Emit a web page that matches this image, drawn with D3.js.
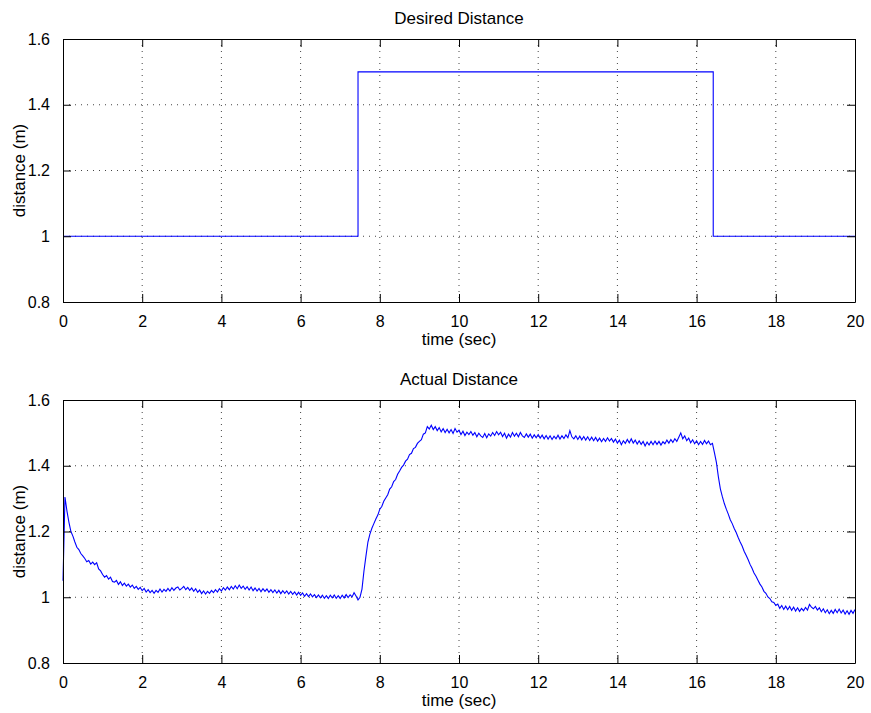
<!DOCTYPE html>
<html>
<head>
<meta charset="utf-8">
<script src="https://cdn.jsdelivr.net/npm/d3@7"></script>
<style>
  body { margin: 0; background: #fff; }
  svg { display: block; font-family: "Liberation Sans", Arial, sans-serif; }
</style>
</head>
<body>
<svg width="871" height="713"></svg>
<script>
// chart text and ticks
const titles = ["Desired Distance", "Actual Distance"];
const xLabel = "time (sec)";
const yLabel = "distance (m)";
const xTicks = [0, 2, 4, 6, 8, 10, 12, 14, 16, 18, 20];
const yTicks = [0.8, 1, 1.2, 1.4, 1.6];

// desired distance (step reference)
const desiredTimes = [0, 7.45, 16.42, 20];
const desiredValues = [1, 1.5, 1, 1];

// actual distance, sampled every 0.05 s from t = 0 to 20
const sampleStep = 0.05;
const actualValues = [
  1.050,1.305,1.262,1.228,1.200,1.186,1.168,1.152,1.145,1.133,1.126,1.118,1.108,1.112,1.101,1.107,1.099,1.105,1.086,1.080,
  1.069,1.061,1.066,1.055,1.061,1.048,1.046,1.051,1.039,1.047,1.036,1.043,1.034,1.040,1.031,1.037,1.027,1.033,1.024,1.030,
  1.020,1.027,1.016,1.023,1.014,1.021,1.012,1.021,1.015,1.025,1.016,1.024,1.018,1.027,1.019,1.029,1.021,1.028,1.031,1.022,
  1.027,1.033,1.023,1.030,1.021,1.028,1.018,1.026,1.015,1.022,1.011,1.019,1.010,1.018,1.012,1.021,1.014,1.023,1.016,1.026,
  1.019,1.029,1.022,1.031,1.023,1.033,1.025,1.035,1.026,1.037,1.027,1.034,1.024,1.032,1.022,1.031,1.020,1.028,1.019,1.027,
  1.017,1.026,1.018,1.025,1.015,1.023,1.014,1.022,1.013,1.021,1.011,1.020,1.012,1.019,1.010,1.018,1.009,1.016,1.007,1.015,
  1.006,1.013,1.003,1.011,1.002,1.010,1.001,1.008,0.999,1.007,0.998,1.006,0.997,1.005,0.996,1.006,0.998,1.007,0.997,1.005,
  0.996,1.006,0.998,1.008,0.999,1.007,1.001,1.014,1.004,0.992,1.000,1.025,1.080,1.125,1.168,1.192,1.210,1.224,1.238,1.250,
  1.268,1.276,1.292,1.302,1.312,1.329,1.336,1.352,1.358,1.374,1.384,1.395,1.402,1.414,1.420,1.434,1.438,1.452,1.456,1.468,
  1.474,1.479,1.496,1.500,1.519,1.512,1.523,1.510,1.519,1.507,1.516,1.503,1.513,1.501,1.511,1.500,1.510,1.498,1.513,1.502,
  1.508,1.495,1.505,1.492,1.502,1.495,1.504,1.493,1.501,1.488,1.499,1.491,1.486,1.498,1.485,1.497,1.490,1.501,1.492,1.504,
  1.494,1.502,1.489,1.499,1.484,1.496,1.487,1.501,1.490,1.499,1.488,1.501,1.491,1.486,1.497,1.487,1.496,1.484,1.494,1.485,
  1.495,1.484,1.493,1.482,1.492,1.481,1.491,1.480,1.490,1.482,1.493,1.481,1.491,1.483,1.494,1.485,1.507,1.488,1.482,1.491,
  1.480,1.490,1.479,1.489,1.478,1.488,1.477,1.487,1.476,1.486,1.475,1.484,1.473,1.483,1.474,1.485,1.475,1.483,1.472,1.481,
  1.469,1.478,1.464,1.476,1.468,1.480,1.470,1.482,1.469,1.478,1.466,1.476,1.465,1.474,1.460,1.472,1.463,1.474,1.464,1.475,
  1.465,1.474,1.463,1.473,1.467,1.478,1.469,1.480,1.471,1.482,1.474,1.487,1.500,1.482,1.491,1.476,1.484,1.470,1.479,1.467,
  1.476,1.464,1.474,1.465,1.477,1.467,1.475,1.464,1.468,1.440,1.410,1.366,1.330,1.306,1.285,1.268,1.253,1.236,1.224,1.209,
  1.197,1.182,1.168,1.156,1.140,1.128,1.115,1.100,1.088,1.074,1.064,1.052,1.040,1.031,1.018,1.012,1.001,0.996,0.986,0.984,
  0.975,0.979,0.966,0.975,0.963,0.973,0.962,0.972,0.960,0.970,0.958,0.968,0.957,0.966,0.959,0.969,0.961,0.978,0.970,0.965,
  0.972,0.961,0.968,0.956,0.965,0.953,0.962,0.950,0.960,0.951,0.963,0.953,0.964,0.952,0.961,0.949,0.959,0.948,0.960,0.951,
  0.963
];

const svg = d3.select("svg");
const left = 63, right = 855, plotH = 263;
const panelTops = [39, 400];

const desired = desiredTimes.map((t, i) => [t, desiredValues[i]]);
const actual = actualValues.map((v, i) => [i * sampleStep, v]);
const series = [
  { data: desired, curve: d3.curveStepAfter },
  { data: actual, curve: d3.curveLinear }
];

const x = d3.scaleLinear().domain([0, 20]).range([left, right]);

panelTops.forEach((top, p) => {
  const y = d3.scaleLinear().domain([0.8, 1.6]).range([top + plotH, top]);
  const g = svg.append("g");

  // dotted grid
  g.append("g").selectAll("line")
    .data(xTicks.slice(1, -1))
    .enter().append("line")
    .attr("x1", d => x(d)).attr("x2", d => x(d))
    .attr("y1", top).attr("y2", top + plotH)
    .attr("stroke", "#444").attr("stroke-width", 1)
    .attr("stroke-dasharray", "1,5");
  g.append("g").selectAll("line")
    .data(yTicks.slice(1, -1))
    .enter().append("line")
    .attr("x1", left).attr("x2", right)
    .attr("y1", d => y(d)).attr("y2", d => y(d))
    .attr("stroke", "#444").attr("stroke-width", 1)
    .attr("stroke-dasharray", "1,5");

  // data line
  const line = d3.line()
    .x(d => x(d[0]))
    .y(d => y(d[1]))
    .curve(series[p].curve);
  g.append("path")
    .datum(series[p].data)
    .attr("fill", "none")
    .attr("stroke", "#0000ff")
    .attr("stroke-width", 1.1)
    .attr("d", line);

  // axes, ticks pointing inward on all four sides
  const axB = d3.axisBottom(x).tickValues(xTicks).tickSizeInner(-8).tickSizeOuter(0).tickPadding(14).tickFormat(d3.format("d"));
  const axT = d3.axisTop(x).tickValues(xTicks).tickSizeInner(-8).tickSizeOuter(0).tickFormat("");
  const axL = d3.axisLeft(y).tickValues(yTicks).tickSizeInner(-8).tickSizeOuter(0).tickPadding(13).tickFormat(d => d === 1 ? "1" : d3.format(".1f")(d));
  const axR = d3.axisRight(y).tickValues(yTicks).tickSizeInner(-8).tickSizeOuter(0).tickFormat("");

  [[axB, `translate(0,${top + plotH})`], [axT, `translate(0,${top})`],
   [axL, `translate(${left},0)`], [axR, `translate(${right},0)`]].forEach(([ax, tr]) => {
    const a = g.append("g").attr("transform", tr).call(ax);
    a.select(".domain").attr("stroke", "#000").attr("stroke-width", 1);
    a.selectAll(".tick line").attr("stroke", "#000");
    a.selectAll("text").attr("fill", "#000").style("font-size", "16px")
      .style("font-family", "'Liberation Sans', Arial, sans-serif");
  });

  g.append("text")
    .attr("x", (left + right) / 2).attr("y", top - 15)
    .attr("text-anchor", "middle").style("font-size", "17px")
    .text(titles[p]);
  g.append("text")
    .attr("x", (left + right) / 2).attr("y", top + plotH + 43)
    .attr("text-anchor", "middle").style("font-size", "17px")
    .text(xLabel);
  g.append("text")
    .attr("transform", `translate(25,${top + plotH / 2}) rotate(-90)`)
    .attr("text-anchor", "middle").style("font-size", "17px")
    .text(yLabel);
});
</script>
</body>
</html>
